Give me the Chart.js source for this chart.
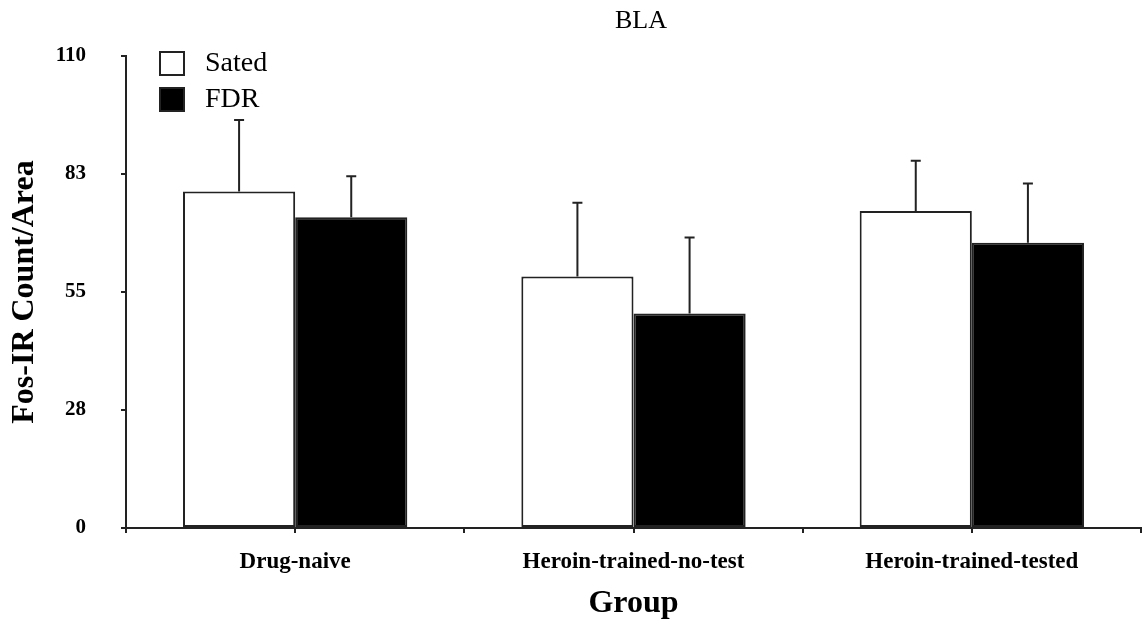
<!DOCTYPE html>
<html>
<head>
<meta charset="utf-8">
<title>BLA</title>
<script src="https://cdn.jsdelivr.net/npm/chart.js@4.4.1/dist/chart.umd.min.js"></script>
<style>
  html, body { margin: 0; padding: 0; background: #fff; }
  #wrap { width: 1146px; height: 624px; }
</style>
</head>
<body>
<div id="wrap"><canvas id="barChart" width="1146" height="624"></canvas></div>
<script>
// data
const groups = ['Drug-naive', 'Heroin-trained-no-test', 'Heroin-trained-tested'];
const satedValues = [78.4, 58.6, 73.9];
const satedErrors = [16.7, 17.2, 11.7];
const fdrValues = [72.4, 50.0, 66.5];
const fdrErrors = [9.6, 17.7, 13.8];
const yTickValues = [0, 27.5, 55, 82.5, 110];

const serif = 'Liberation Serif, Times New Roman, serif';
const ink = '#222';

// upper error bars with caps
const errorBarPlugin = {
    id: 'errorBars',
    afterDatasetsDraw(chart) {
        const ctx = chart.ctx;
        const yScale = chart.scales.y;
        ctx.save();
        ctx.strokeStyle = ink;
        ctx.lineWidth = 2;
        chart.data.datasets.forEach((ds, i) => {
            const meta = chart.getDatasetMeta(i);
            meta.data.forEach((bar, j) => {
                const top = yScale.getPixelForValue(ds.data[j] + ds.errors[j]);
                ctx.beginPath();
                ctx.moveTo(bar.x, bar.y);
                ctx.lineTo(bar.x, top);
                ctx.moveTo(bar.x - 5, top);
                ctx.lineTo(bar.x + 5, top);
                ctx.stroke();
            });
        });
        ctx.restore();
    }
};

// title, legend and x tick marks (boundaries + centres)
const decorPlugin = {
    id: 'decor',
    afterDraw(chart) {
        const ctx = chart.ctx;
        const area = chart.chartArea;
        ctx.save();

        // small downward ticks every half category
        ctx.strokeStyle = ink;
        ctx.lineWidth = 2;
        const step = (area.right - area.left) / (groups.length * 2);
        for (let k = 0; k <= groups.length * 2; k++) {
            const x = Math.round(area.left + k * step);
            ctx.beginPath();
            ctx.moveTo(x, area.bottom);
            ctx.lineTo(x, area.bottom + 5);
            ctx.stroke();
        }

        // title
        ctx.fillStyle = '#000';
        ctx.font = '26px ' + serif;
        ctx.textAlign = 'center';
        ctx.textBaseline = 'alphabetic';
        ctx.fillText('BLA', 641, 28);

        // legend
        ctx.textAlign = 'left';
        ctx.font = '28px ' + serif;
        chart.data.datasets.forEach((ds, i) => {
            const y = 52 + i * 36;
            ctx.fillStyle = ds.backgroundColor;
            ctx.fillRect(160, y, 24, 23);
            ctx.strokeStyle = ink;
            ctx.lineWidth = 2;
            ctx.strokeRect(160, y, 24, 23);
            ctx.fillStyle = '#000';
            ctx.fillText(ds.label, 205, y + 19);
        });
        ctx.restore();
    }
};

const ctx = document.getElementById('barChart');
new Chart(ctx, {
    type: 'bar',
    data: {
        labels: groups,
        datasets: [{
            label: 'Sated',
            data: satedValues,
            errors: satedErrors,
            backgroundColor: '#ffffff',
            borderColor: ink,
            borderWidth: 2,
            borderSkipped: false
        }, {
            label: 'FDR',
            data: fdrValues,
            errors: fdrErrors,
            backgroundColor: '#000000',
            borderColor: ink,
            borderWidth: 2,
            borderSkipped: false
        }]
    },
    options: {
        responsive: false,
        animation: false,
        categoryPercentage: 0.663,
        barPercentage: 1,
        layout: { padding: { left: 0, right: 5, top: 56, bottom: 0 } },
        plugins: {
            legend: { display: false },
            tooltip: { enabled: false }
        },
        scales: {
            x: {
                grid: { display: false, drawTicks: false },
                border: { display: true, color: ink, width: 2 },
                ticks: {
                    color: '#000',
                    padding: 20,
                    font: { family: serif, size: 23, weight: 'bold' }
                },
                title: {
                    display: true,
                    text: 'Group',
                    color: '#000',
                    padding: { top: 0, bottom: 1 },
                    font: { family: serif, size: 32, weight: 'bold' }
                },
                afterFit(scale) { scale.height = 96; }
            },
            y: {
                min: 0,
                max: 110,
                grid: { drawOnChartArea: false, tickLength: 5, color: ink, lineWidth: 2 },
                border: { display: true, color: ink, width: 2 },
                afterBuildTicks(scale) {
                    scale.ticks = yTickValues.map(v => ({ value: v }));
                },
                ticks: {
                    color: '#000',
                    padding: 35,
                    font: { family: serif, size: 21, weight: 'bold' },
                    callback: v => Math.round(v)
                },
                title: {
                    display: true,
                    text: 'Fos-IR Count/Area',
                    color: '#000',
                    padding: { top: 6, bottom: 0 },
                    font: { family: serif, size: 32, weight: 'bold' }
                },
                afterFit(scale) { scale.width = 126; }
            }
        }
    },
    plugins: [errorBarPlugin, decorPlugin]
});
</script>
</body>
</html>
